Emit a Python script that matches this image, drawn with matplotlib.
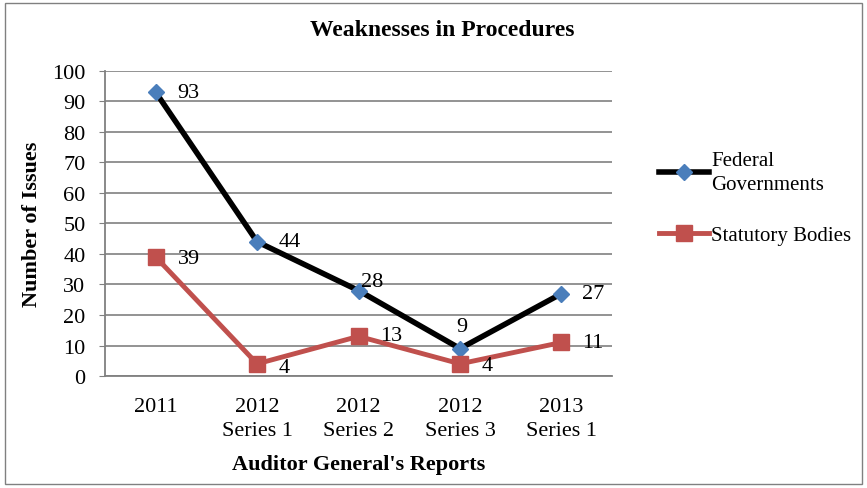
import matplotlib
matplotlib.use('Agg')
import matplotlib.pyplot as plt
from matplotlib.patches import Rectangle

plt.rcParams['font.family'] = ['Liberation Serif', 'DejaVu Serif']

categories = ['2011', '2012\nSeries 1', '2012\nSeries 2', '2012\nSeries 3', '2013\nSeries 1']
federal = [93, 44, 28, 9, 27]
statutory = [39, 4, 13, 4, 11]

fig = plt.figure(figsize=(8.67, 4.89), dpi=100)
fig.patches.append(Rectangle((0.006, 0.008), 0.988, 0.984, transform=fig.transFigure,
                             fill=False, edgecolor='#808080', linewidth=1.0))
ax = fig.add_axes([0.1211, 0.229, 0.585, 0.624])

x = range(len(categories))
ax.plot(x, federal, color='black', linewidth=4, marker='D', markersize=8,
        markerfacecolor='#4A7EBB', markeredgecolor='#4A7EBB', label='Federal\nGovernments', zorder=3)
ax.plot(x, statutory, color='#C0504D', linewidth=3.5, marker='s', markersize=11,
        markerfacecolor='#C0504D', markeredgecolor='#C0504D', label='Statutory Bodies', zorder=3)

# data labels (offset in pixels, alignment)
fed_off = [((22, 0), 'left'), ((21, 0), 'left'), ((2, 9), 'left'), ((2, 22), 'center'), ((21, 0), 'left')]
sta_off = [((22, -1), 'left'), ((21, -4), 'left'), ((22, 1), 'left'), ((22, -2), 'left'), ((21, 0), 'left')]
for i, v in enumerate(federal):
    ax.annotate(str(v), (i, v), xytext=fed_off[i][0], textcoords='offset pixels',
                ha=fed_off[i][1], va='center', fontsize=16)
for i, v in enumerate(statutory):
    ax.annotate(str(v), (i, v), xytext=sta_off[i][0], textcoords='offset pixels',
                ha=sta_off[i][1], va='center', fontsize=16)

ax.set_xlim(-0.5, 4.5)
ax.set_ylim(0, 100)
ax.set_yticks(range(0, 101, 10))
ax.set_xticks(list(x))
ax.set_xticklabels(categories, fontsize=16, linespacing=1.35)
ax.tick_params(axis='y', labelsize=16, length=4, color='#808080', pad=10)
ax.tick_params(axis='x', length=0, pad=15)
ax.grid(axis='y', color='#808080', linewidth=1.2)
ax.set_axisbelow(True)
for s in ['top', 'right']:
    ax.spines[s].set_visible(False)
for s in ['left', 'bottom']:
    ax.spines[s].set_color('#808080')
    ax.spines[s].set_linewidth(1.3)

fig.text(0.51, 0.937, 'Weaknesses in Procedures', fontsize=17, fontweight='bold',
         ha='center', va='center')
ax.set_xlabel("Auditor General's Reports", fontsize=16, fontweight='bold', labelpad=10)
ax.set_ylabel('Number of Issues', fontsize=16, fontweight='bold', labelpad=7)

leg = ax.legend(loc='upper left', bbox_to_anchor=(1.055, 0.80), frameon=False, fontsize=15,
                handlelength=2.4, labelspacing=1.5, handletextpad=0.1)
for t in leg.get_texts():
    t.set_linespacing(1.4)

fig.savefig('out.png', dpi=100)
